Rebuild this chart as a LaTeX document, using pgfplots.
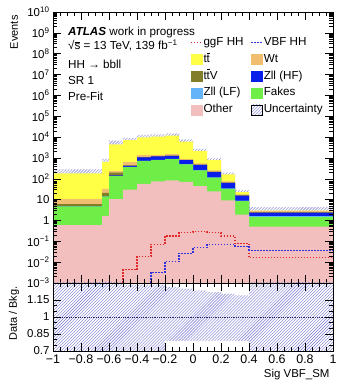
\documentclass[border=0pt]{standalone}
\usepackage{pgfplots}
\pgfplotsset{compat=1.18}
\usepackage{fontspec}
\setmainfont{Liberation Sans}
\usetikzlibrary{patterns}
\definecolor{cother}{RGB}{242,190,190}
\definecolor{cfakes}{RGB}{110,238,70}
\definecolor{clf}{RGB}{100,180,250}
\definecolor{chf}{RGB}{10,30,235}
\definecolor{cttv}{RGB}{130,125,40}
\definecolor{cwt}{RGB}{240,190,110}
\definecolor{ctt}{RGB}{255,255,70}
\definecolor{cunc}{RGB}{120,120,210}
\definecolor{cggf}{RGB}{225,40,40}
\definecolor{cvbf}{RGB}{50,50,220}
\newcommand{\fs}{\fontsize{11.7}{14}\selectfont}
\newcommand{\tb}{\rlap{\kern0.02em\rule[0.78em]{0.26em}{0.06em}}t}
\newcommand{\sbar}{\rlap{\rule[0.62em]{0.5em}{0.05em}}s}
\tikzset{sigdash/.style={line width=1.1bp, dash pattern=on 1.5bp off 1.5bp}}
\begin{document}
\begin{tikzpicture}
\useasboundingbox (0,0) rectangle (339bp,385bp);
\begin{axis}[
  at={(53bp,102bp)}, anchor=south west, scale only axis,
  width=280bp, height=271bp,
  xmin=-1, xmax=1, ymode=log, ymin=1e-3, ymax=1e10,
  axis on top,
  xtick={-1,-0.8,-0.6,-0.4,-0.2,0,0.2,0.4,0.6,0.8,1}, xticklabels={},
  minor x tick num=3,
  ytick={1e-3,1e-2,1e-1,1,10,100,1e3,1e4,1e5,1e6,1e7,1e8,1e9,1e10},
  yticklabels={10\textsuperscript{−3},10\textsuperscript{−2},10\textsuperscript{−1},1,10,10\textsuperscript{2},10\textsuperscript{3},10\textsuperscript{4},10\textsuperscript{5},10\textsuperscript{6},10\textsuperscript{7},10\textsuperscript{8},10\textsuperscript{9},10\textsuperscript{10}},
  yticklabel style={font=\fontsize{11.5}{13}\selectfont},
  ylabel={Events},
  ylabel style={at={(axis description cs:-0.139,1)}, anchor=east, font=\fontsize{11}{13}\selectfont},
  major tick length=8bp, minor tick length=4bp,
  tick style={black, line width=0.5bp},
  axis line style={line width=0.6bp},
  legend columns=2, legend cell align=left,
  legend style={at={(axis description cs:0.49,0.912)}, anchor=north west, draw=none, fill=none,
    font=\fs, row sep=3.3bp, inner sep=0pt,
    nodes={inner sep=1bp, text height=8.5bp, text depth=3bp},
    /tikz/every even column/.append style={column sep=6bp}},
]
% uncertainty (upper edge), hidden below the stack
\addplot[const plot, draw=none, pattern=north east lines, pattern color=cunc, forget plot] coordinates {
(-1,1e-5) (-1,279) (-0.65,910) (-0.6,6750) (-0.5,9252) (-0.4,12593) (-0.3,13493) (-0.2,14800) (-0.1,7500) (0,2717) (0.1,952) (0.2,195) (0.3,27.4) (0.4,4.35) (1,4.35) (1,1e-5)};
% ttbar (cumulative = total)
\addplot[const plot, draw=none, fill=ctt, forget plot] coordinates {
(-1,1e-5) (-1,180) (-0.65,650) (-0.6,4500) (-0.5,7200) (-0.4,9800) (-0.3,10500) (-0.2,11700) (-0.1,6000) (0,2200) (0.1,780) (0.2,162) (0.3,23) (0.4,3.0) (1,3.0) (1,1e-5)};
% Wt cumulative
\addplot[const plot, draw=none, fill=cwt, forget plot] coordinates {
(-1,1e-5) (-1,10.7) (-0.65,33) (-0.6,234) (-0.5,620) (-0.4,1350) (-0.3,1350) (-0.2,1500) (-0.1,870) (0,550) (0.1,250) (0.2,74) (0.3,18) (0.4,2.9) (1,2.9) (1,1e-5)};
% ttV cumulative
\addplot[const plot, draw=none, fill=cttv, forget plot] coordinates {
(-1,1e-5) (-1,6.1) (-0.65,21) (-0.6,195) (-0.5,440) (-0.4,1080) (-0.3,1200) (-0.2,1290) (-0.1,800) (0,475) (0.1,218) (0.2,66) (0.3,16) (0.4,2.45) (1,2.45) (1,1e-5)};
% Zll HF cumulative
\addplot[const plot, draw=none, fill=chf, forget plot] coordinates {
(-1,1e-5) (-1,4.8) (-0.65,14.6) (-0.6,145) (-0.5,410) (-0.4,1050) (-0.3,1170) (-0.2,1250) (-0.1,780) (0,460) (0.1,210) (0.2,64) (0.3,15.5) (0.4,2.4) (1,2.4) (1,1e-5)};
% Zll LF cumulative
\addplot[const plot, draw=none, fill=clf, forget plot] coordinates {
(-1,1e-5) (-1,4.75) (-0.65,14.4) (-0.6,138) (-0.5,372) (-0.4,730) (-0.3,800) (-0.2,890) (-0.1,510) (0,260) (0.1,116) (0.2,34.5) (0.3,9) (0.4,1.6) (1,1.6) (1,1e-5)};
% Fakes cumulative
\addplot[const plot, draw=none, fill=cfakes, forget plot] coordinates {
(-1,1e-5) (-1,4.7) (-0.65,14.3) (-0.6,134) (-0.5,365) (-0.4,720) (-0.3,780) (-0.2,870) (-0.1,495) (0,252) (0.1,112) (0.2,33) (0.3,8.5) (0.4,1.5) (1,1.5) (1,1e-5)};
% Other
\addplot[const plot, draw=none, fill=cother, forget plot] coordinates {
(-1,1e-5) (-1,0.6) (-0.65,1.65) (-0.6,10.7) (-0.5,30) (-0.4,57) (-0.3,76) (-0.2,83) (-0.1,71) (0,44) (0.1,25) (0.2,9.2) (0.3,1.9) (0.4,0.5) (1,0.5) (1,1e-5)};
% signals
\addplot[const plot, cggf, sigdash, forget plot] coordinates {
(-0.5,1e-5) (-0.5,0.0043) (-0.4,0.019) (-0.3,0.072) (-0.2,0.18) (-0.1,0.26) (0,0.29) (0.1,0.26) (0.2,0.18) (0.3,0.078) (0.4,0.016) (1,0.016)};
\addplot[const plot, cvbf, sigdash, forget plot] coordinates {
(-0.3,1e-5) (-0.3,0.0033) (-0.2,0.011) (-0.1,0.027) (0,0.05) (0.1,0.07) (0.2,0.07) (0.3,0.058) (0.4,0.037) (1,0.037)};
% legend
\addlegendimage{legend image code/.code={\draw[cggf, sigdash] (0bp,0bp) -- (11bp,0bp);}}
\addlegendentry{ggF HH}
\addlegendimage{legend image code/.code={\draw[cvbf, sigdash] (0bp,0bp) -- (11bp,0bp);}}
\addlegendentry{VBF HH}
\addlegendimage{legend image code/.code={\fill[ctt] (0bp,-5bp) rectangle (11bp,5bp);}}
\addlegendentry{t\tb}
\addlegendimage{legend image code/.code={\fill[cwt] (0bp,-5bp) rectangle (11bp,5bp);}}
\addlegendentry{Wt}
\addlegendimage{legend image code/.code={\fill[cttv] (0bp,-5bp) rectangle (11bp,5bp);}}
\addlegendentry{t\tb V}
\addlegendimage{legend image code/.code={\fill[chf] (0bp,-5bp) rectangle (11bp,5bp);}}
\addlegendentry{Zll (HF)}
\addlegendimage{legend image code/.code={\fill[clf] (0bp,-5bp) rectangle (11bp,5bp);}}
\addlegendentry{Zll (LF)}
\addlegendimage{legend image code/.code={\fill[cfakes] (0bp,-5bp) rectangle (11bp,5bp);}}
\addlegendentry{Fakes}
\addlegendimage{legend image code/.code={\fill[cother] (0bp,-5bp) rectangle (11bp,5bp);}}
\addlegendentry{Other}
\addlegendimage{legend image code/.code={\fill[pattern=north east lines, pattern color=cunc] (0bp,-5bp) rectangle (11bp,5bp);}}
\addlegendentry{Uncertainty}
% texts
\node[anchor=base west, font=\fs, inner sep=1bp] at (axis description cs:0.05,0.914) {\textbf{\textit{ATLAS}} work in progress};
\node[anchor=base west, font=\fs, inner sep=1bp] at (axis description cs:0.05,0.860) {√\sbar{} = 13 TeV, 139 fb\textsuperscript{−1}};
\node[anchor=base west, font=\fs, inner sep=1bp] at (axis description cs:0.05,0.792) {HH → bbll};
\node[anchor=base west, font=\fs, inner sep=1bp] at (axis description cs:0.05,0.732) {SR 1};
\node[anchor=base west, font=\fs, inner sep=1bp] at (axis description cs:0.05,0.675) {Pre-Fit};
\end{axis}
\begin{axis}[
  at={(53bp,34bp)}, anchor=south west, scale only axis,
  width=280bp, height=68bp,
  xmin=-1, xmax=1, ymin=0.7, ymax=1.3,
  axis on top,
  xtick={-1,-0.8,-0.6,-0.4,-0.2,0,0.2,0.4,0.6,0.8,1},
  xticklabels={−1,−0.8,−0.6,−0.4,−0.2,0,0.2,0.4,0.6,0.8,1},
  minor x tick num=3,
  ytick={0.7,0.85,1,1.15}, yticklabels={0.7,0.85,1,1.15},
  minor y tick num=2,
  xticklabel style={font=\fontsize{12.5}{14}\selectfont},
  yticklabel style={font=\fontsize{11.5}{13}\selectfont},
  ylabel={Data / Bkg.},
  ylabel style={at={(axis description cs:-0.139,1)}, anchor=east, font=\fontsize{11}{13}\selectfont},
  xlabel={Sig VBF\_SM},
  xlabel style={at={(axis description cs:1,-0.35)}, anchor=east, font=\fontsize{11.5}{13}\selectfont},
  major tick length=8bp, minor tick length=4bp,
  tick style={black, line width=0.5bp},
  axis line style={line width=0.6bp},
]
\addplot[const plot, draw=none, pattern=north east lines, pattern color=cunc] coordinates {
(-1,0.5) (-1,1.6) (-0.65,1.6) (-0.6,1.6) (-0.5,1.285) (-0.4,1.285) (-0.3,1.285) (-0.2,1.265) (-0.1,1.25) (0,1.235) (0.1,1.22) (0.2,1.205) (0.3,1.19) (0.4,1.6) (1,1.6) (1,0.5)};
\addplot[const plot, draw=none, fill=white] coordinates {
(-1,0.5) (-1,0.5) (-0.65,0.5) (-0.6,0.5) (-0.5,0.5) (-0.4,0.5) (-0.3,0.5) (-0.2,0.79) (-0.1,0.79) (0,0.79) (0.1,0.79) (0.2,0.79) (0.3,0.79) (0.4,0.5) (1,0.5) (1,0.5)};
\addplot[densely dotted, line width=0.8bp, color={rgb,255:red,40;green,40;blue,100}] coordinates {(-1,1) (1,1)};
\end{axis}
\end{tikzpicture}
\end{document}
